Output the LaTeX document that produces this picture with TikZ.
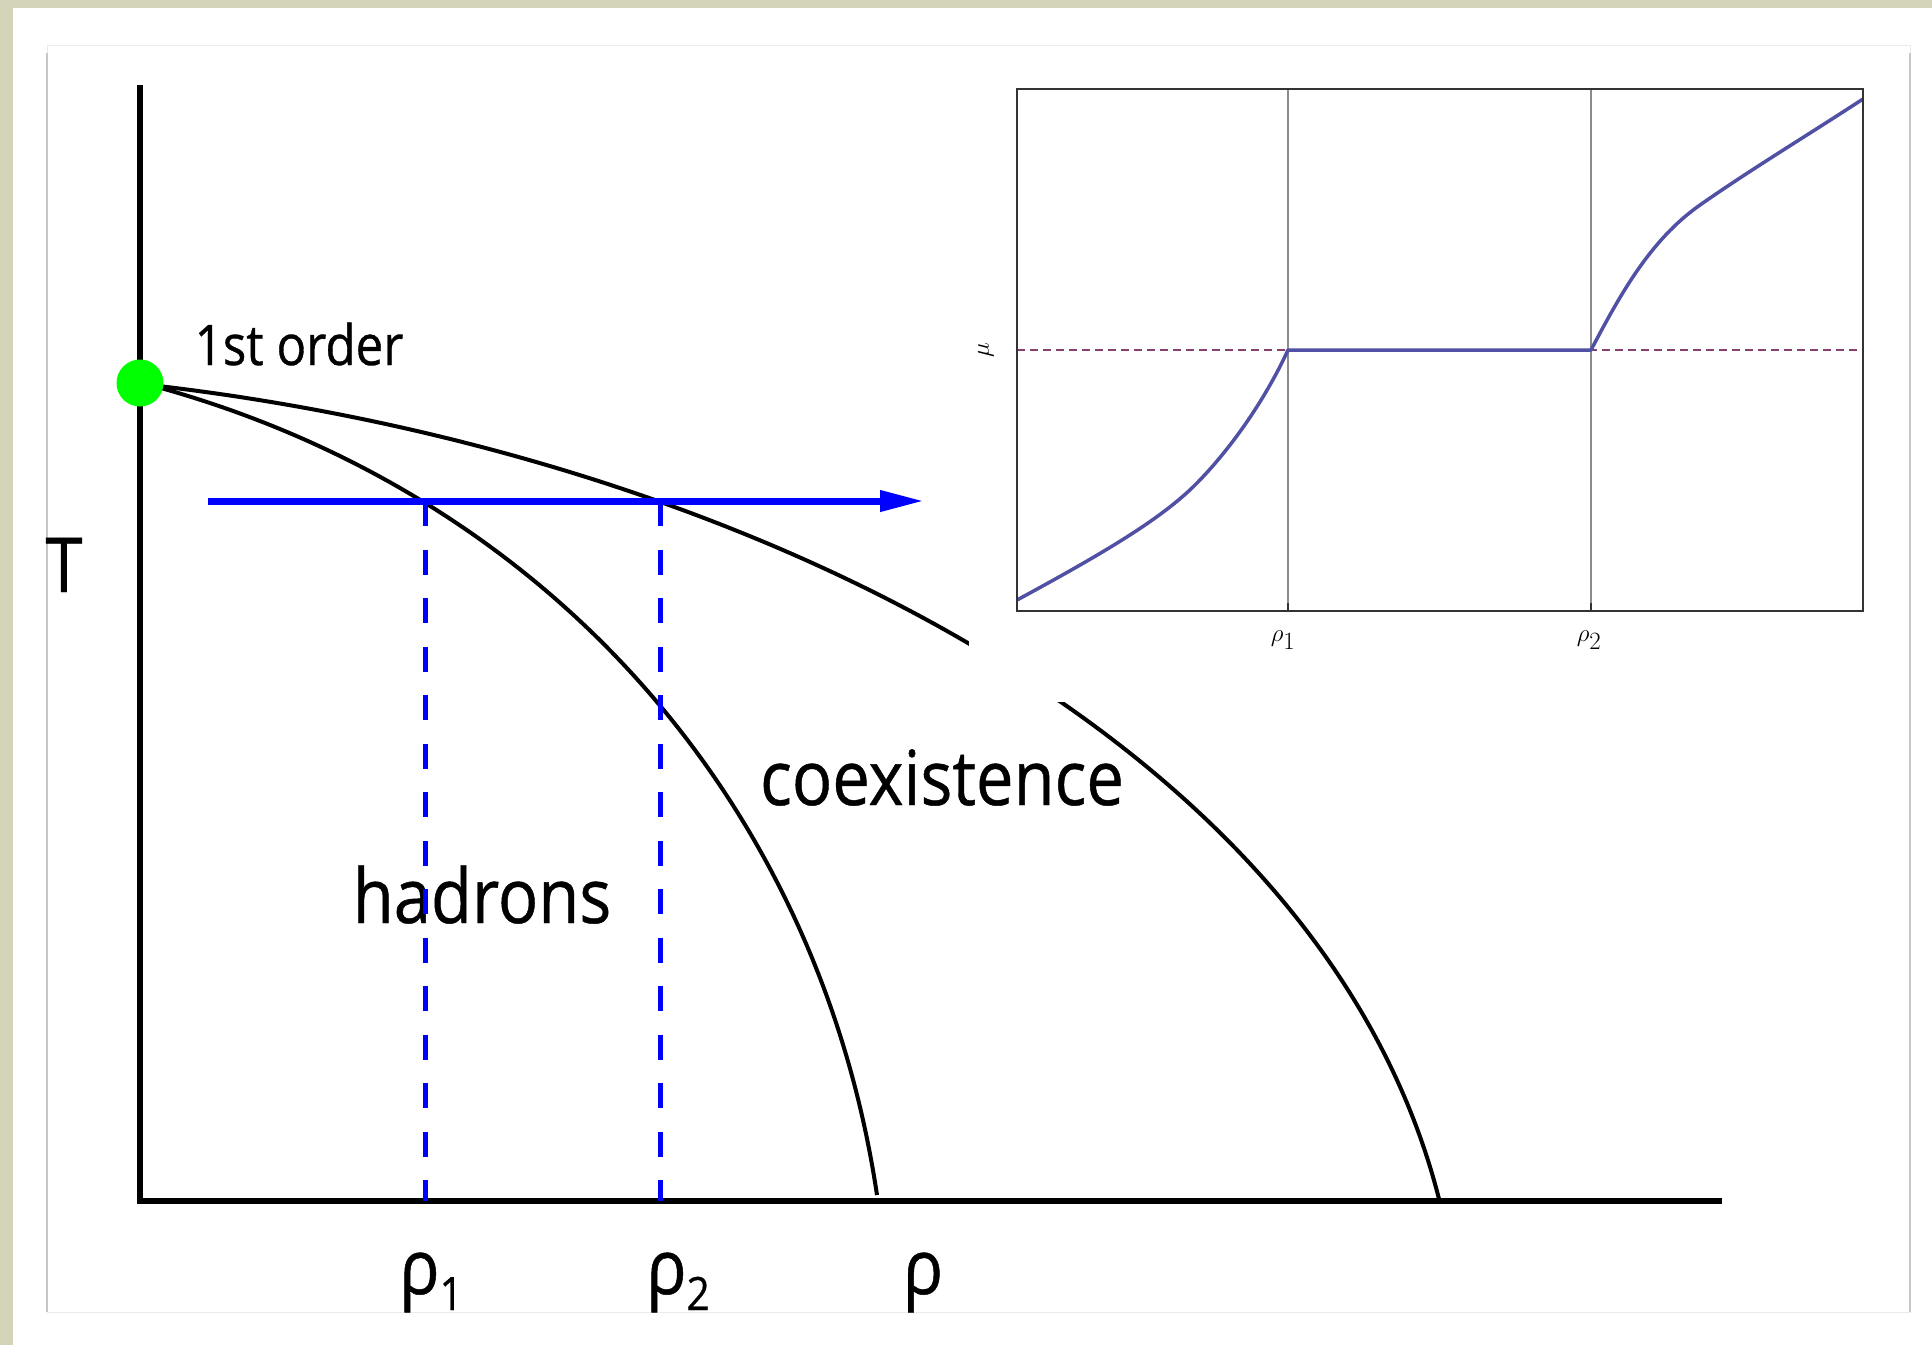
\documentclass[tikz,border=0pt]{standalone}
\usepackage{fontspec}
\setmainfont[FakeStretch=0.88,FakeBold=0.6]{Open Sans}
\usetikzlibrary{arrows.meta}
\definecolor{beige}{RGB}{212,212,184}
\definecolor{mupurple}{RGB}{135,65,110}
\definecolor{curveblue}{RGB}{80,80,165}
\newcommand\lowsub[1]{\raisebox{-16pt}{\fontsize{46}{46}\selectfont #1}}
\begin{document}
\begin{tikzpicture}[x=1pt,y=-1pt,
  axisline/.style={line width=6pt, black},
  phase/.style={line width=4pt, black},
  blueline/.style={line width=7pt, blue},
  bluedash/.style={line width=5pt, blue, dash pattern=on 25pt off 23.5pt},
  lbl/.style={inner sep=0pt, anchor=base},
  big/.style={font=\fontsize{76}{80}\selectfont},
  mid/.style={font=\fontsize{56}{60}\selectfont},
  small/.style={inner sep=0pt, font=\fontsize{34}{36}\selectfont},
  frame/.style={line width=2pt, black!80},
  guide/.style={line width=1.5pt, black!45},
  mucurve/.style={line width=3.5pt, curveblue, line join=round}
]
\useasboundingbox (0,0) rectangle (1932,1345);
% background
\fill[white] (0,0) rectangle (1932,1345);
\fill[beige] (0,0) rectangle (1932,8);
\fill[beige] (0,0) rectangle (13,1345);
\draw[black!8, line width=1pt, fill=white] (47,45) rectangle (1910,1312);
\draw[black!22, line width=2pt] (47,53) -- (47,1312);
\draw[black!22, line width=2pt] (1910,53) -- (1910,1312);

% axes
\coordinate (ytop) at (140,85);
\coordinate (O) at (140,1201);
\coordinate (xend) at (1722,1201);
\draw[axisline] (ytop) -- (O) -- (xend);

% phase boundaries
\coordinate (s0) at (150,385);
\coordinate (e1) at (1439,1199);
\coordinate (e2) at (877,1195);
\draw[phase] (s0) .. controls (720,450) and (1320,730) .. (e1);
\draw[phase] (s0) .. controls (540,490) and (817,795) .. (e2);

% inset background
\fill[white] (969,60) rectangle (1900,702);

% inset
\draw[guide] (1288,89) -- (1288,611);
\draw[guide] (1591,89) -- (1591,611);
\draw[frame] (1288,603) -- (1288,611);
\draw[frame] (1591,603) -- (1591,611);
\draw[line width=1.5pt, mupurple, dash pattern=on 8pt off 5pt] (1017,350) -- (1863,350);
\coordinate (m0) at (1017,600);
\coordinate (m1) at (1288,350);
\coordinate (m2) at (1591,350);
\coordinate (m3) at (1863,99);
\draw[mucurve] (m0) .. controls (1100,555) and (1160,520) .. (1195,485)
  .. controls (1230,450) and (1265,400) .. (m1) -- (m2)
  .. controls (1620,295) and (1650,240) .. (1700,205)
  .. controls (1750,170) and (1800,140) .. (m3);
\draw[frame] (1017,89) rectangle (1863,611);
\node[small] (ir1) at (1283,640) {$\rho_1$};
\node[small] (ir2) at (1589,640) {$\rho_2$};
\node[small, rotate=90] (mu) at (986,350) {$\mu$};

% labels
\node[lbl, mid] (first) at (299,365) {1st order};
\node[lbl, big] (T) at (64,592) {T};
\node[lbl, big] (had) at (482,923) {hadrons};
\node[lbl, big] (coex) at (942,805) {coexistence};
\node[lbl, big] (r1) at (431,1294) {ρ\lowsub{1}};
\node[lbl, big] (r2) at (678,1294) {ρ\lowsub{2}};
\node[lbl, big] (r) at (923,1294) {ρ};

% path at fixed T
\coordinate (a0) at (208,501);
\coordinate (a1) at (924,501);
\coordinate (d1t) at (425,501);
\coordinate (d1b) at (425,1201);
\coordinate (d2t) at (660,501);
\coordinate (d2b) at (660,1201);
\draw[bluedash] (d1t) -- (d1b);
\draw[bluedash] (d2t) -- (d2b);
\draw[blueline, -{Triangle[length=44pt,width=20pt]}] (a0) -- (a1);

% critical point
\node[circle, fill=green, inner sep=0pt, minimum size=47pt] (cp) at (140,383) {};
\end{tikzpicture}
\end{document}
